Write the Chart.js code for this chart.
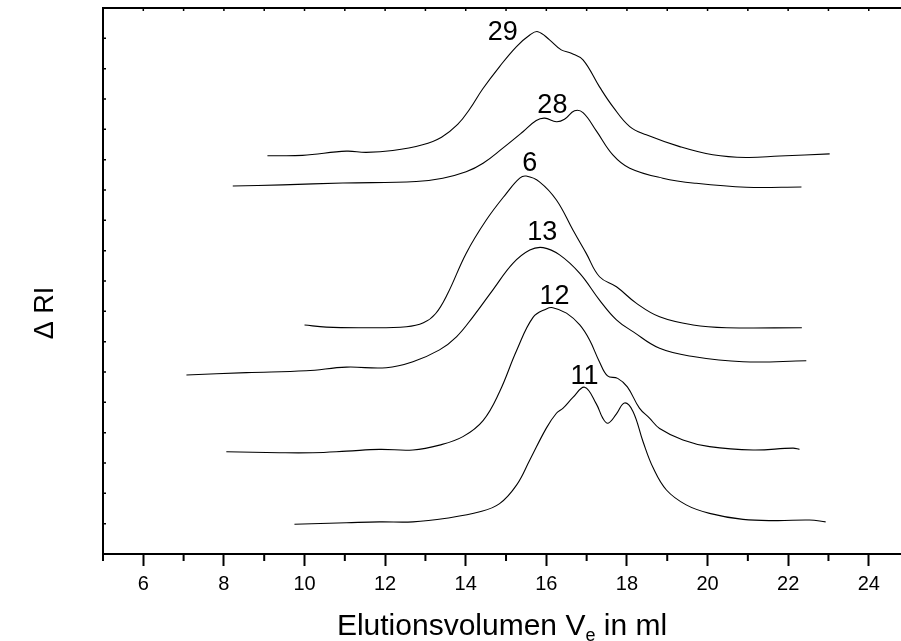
<!DOCTYPE html>
<html>
<head>
<meta charset="utf-8">
<script src="https://cdn.jsdelivr.net/npm/chart.js@4.4.1/dist/chart.umd.min.js"></script>
<style>
body { margin: 0; background: #fff; }
#wrap { width: 901px; height: 641px; }
</style>
</head>
<body>
<div id="wrap"><canvas id="gpcChart"></canvas></div>
<script>
// elution volume (ml) and RI signal (arbitrary, stacked)
const vol29 = [9.08, 9.95, 11.04, 11.53, 12.19, 12.93, 13.40, 13.80, 14.10, 14.42, 14.84, 15.26, 15.59, 15.79, 16.08, 16.37, 16.62, 16.91, 17.32, 17.65, 18.07, 18.48, 19.31, 20.13, 20.96, 21.79, 23.03];
const ri29 = [13.13, 13.14, 13.28, 13.24, 13.30, 13.49, 13.74, 14.16, 14.67, 15.33, 16.07, 16.73, 17.11, 17.22, 16.95, 16.62, 16.51, 16.29, 15.40, 14.75, 14.09, 13.82, 13.43, 13.16, 13.07, 13.12, 13.19];

const vol28 = [8.22, 9.46, 10.95, 12.77, 13.43, 14.01, 14.43, 14.92, 15.42, 15.75, 15.96, 16.25, 16.45, 16.70, 16.91, 17.24, 17.65, 18.07, 18.89, 19.72, 20.96, 22.33];
const ri28 = [12.13, 12.17, 12.23, 12.28, 12.39, 12.60, 12.88, 13.38, 13.92, 14.29, 14.37, 14.25, 14.33, 14.61, 14.55, 13.95, 13.16, 12.72, 12.39, 12.22, 12.09, 12.10];

const vol6 = [10.00, 10.54, 11.45, 12.53, 12.95, 13.25, 13.55, 14.01, 14.51, 15.01, 15.34, 15.50, 15.83, 16.25, 16.66, 16.99, 17.32, 17.74, 18.23, 18.81, 19.64, 20.47, 22.34];
const ri6 = [7.55, 7.48, 7.46, 7.49, 7.62, 7.92, 8.58, 9.91, 11.01, 11.89, 12.39, 12.46, 12.27, 11.67, 10.68, 9.91, 9.14, 8.81, 8.27, 7.82, 7.55, 7.46, 7.46];

const vol13 = [7.07, 8.56, 10.04, 11.04, 12.03, 12.69, 13.35, 13.77, 14.18, 14.67, 15.17, 15.59, 15.92, 16.33, 16.83, 17.32, 17.74, 18.15, 18.81, 19.64, 20.88, 22.45];
const ri13 = [5.90, 5.98, 6.04, 6.16, 6.14, 6.34, 6.73, 7.16, 7.82, 8.70, 9.58, 10.02, 10.10, 9.86, 9.25, 8.37, 7.72, 7.33, 6.78, 6.51, 6.34, 6.37];

const vol12 = [8.06, 9.38, 10.21, 11.04, 11.86, 12.69, 13.35, 13.93, 14.43, 14.84, 15.26, 15.67, 16.00, 16.16, 16.50, 16.83, 17.07, 17.32, 17.52, 17.77, 18.01, 18.31, 18.56, 18.81, 19.39, 20.05, 21.13, 22.12, 22.28];
const ri12 = [3.37, 3.34, 3.34, 3.39, 3.45, 3.43, 3.59, 3.87, 4.40, 5.35, 6.70, 7.80, 8.08, 8.12, 7.94, 7.55, 7.06, 6.33, 5.87, 5.79, 5.51, 4.81, 4.48, 4.14, 3.76, 3.54, 3.43, 3.49, 3.45];

const vol11 = [9.75, 11.04, 11.86, 12.69, 13.52, 14.35, 14.84, 15.26, 15.59, 16.00, 16.25, 16.41, 16.66, 16.95, 17.24, 17.40, 17.53, 17.74, 17.94, 18.15, 18.40, 18.65, 18.98, 19.47, 20.05, 20.88, 21.71, 22.53, 22.93];
const ri11 = [0.98, 1.03, 1.06, 1.06, 1.18, 1.39, 1.66, 2.27, 3.10, 4.15, 4.64, 4.80, 5.16, 5.50, 4.95, 4.48, 4.31, 4.62, 4.98, 4.70, 3.70, 2.84, 2.11, 1.62, 1.34, 1.14, 1.10, 1.12, 1.06];

// sample numbers written above each peak
const sampleNames = ['29', '28', '6', '13', '12', '11'];
const labelVol = [14.92, 16.15, 15.59, 15.90, 16.20, 16.95];
const labelRI = [17.20, 14.80, 12.88, 10.61, 8.48, 5.85];

// axis ticks
const xMajor = [6, 8, 10, 12, 14, 16, 18, 20, 22, 24];
const xMinor = [5, 7, 9, 11, 13, 15, 17, 19, 21, 23];
const yMinor = [1, 2, 3, 4, 5, 6, 7, 8, 9, 10, 11, 12, 13, 14, 15, 16, 17];

const FONT = '"Liberation Sans", Arial, sans-serif';

function curve(vol, ri) {
    return {
        data: vol.map((v, i) => ({ x: v, y: ri[i] })),
        borderColor: '#000',
        borderWidth: 1.1,
        pointRadius: 0,
        tension: 0.4,
        fill: false
    };
}

/// Extra axis decorations: top frame, small inside ticks, odd minor ticks, titles and peak labels
const decor = {
    id: 'decor',
    afterDraw(chart) {
        const { ctx, chartArea: a, scales: { x, y } } = chart;
        ctx.save();
        ctx.strokeStyle = '#000';
        ctx.lineWidth = 2;
        ctx.beginPath();
        ctx.moveTo(a.left - 1, a.top);
        ctx.lineTo(a.right, a.top);
        ctx.stroke();

        ctx.lineWidth = 1.5;
        ctx.beginPath();
        xMajor.concat(xMinor).forEach(v => {
            const px = x.getPixelForValue(v);
            ctx.moveTo(px, a.top);
            ctx.lineTo(px, a.top + 3);
        });
        yMinor.forEach(v => {
            const py = y.getPixelForValue(v);
            ctx.moveTo(a.left, py);
            ctx.lineTo(a.left + 3, py);
        });
        ctx.stroke();

        ctx.lineWidth = 2;
        ctx.beginPath();
        xMinor.forEach(v => {
            const px = x.getPixelForValue(v);
            ctx.moveTo(px, a.bottom);
            ctx.lineTo(px, a.bottom + 7);
        });
        ctx.stroke();

        ctx.fillStyle = '#000';
        ctx.font = '27px ' + FONT;
        ctx.textAlign = 'center';
        ctx.textBaseline = 'middle';
        sampleNames.forEach((s, i) => {
            ctx.fillText(s, x.getPixelForValue(labelVol[i]), y.getPixelForValue(labelRI[i]));
        });

        // y title
        ctx.save();
        ctx.translate(46, 313);
        ctx.rotate(-Math.PI / 2);
        ctx.fillText('\u0394 RI', 0, 0);
        ctx.restore();

        // x title with subscript e
        ctx.textAlign = 'left';
        ctx.textBaseline = 'alphabetic';
        const part1 = 'Elutionsvolumen V';
        const part2 = ' in ml';
        const bigFont = '30px ' + FONT;
        const smallFont = '18px ' + FONT;
        ctx.font = bigFont;
        const w1 = ctx.measureText(part1).width;
        const w3 = ctx.measureText(part2).width;
        ctx.font = smallFont;
        const w2 = ctx.measureText('e').width;
        let tx = (a.left + a.right) / 2 - (w1 + w2 + w3) / 2;
        const base = 635;
        ctx.font = bigFont;
        ctx.fillText(part1, tx, base);
        tx += w1;
        ctx.font = smallFont;
        ctx.fillText('e', tx, base + 6);
        tx += w2;
        ctx.font = bigFont;
        ctx.fillText(part2, tx, base);
        ctx.restore();
    }
};

const gpcChart = new Chart('gpcChart', {
    type: 'line',
    data: {
        datasets: [
            curve(vol29, ri29),
            curve(vol28, ri28),
            curve(vol6, ri6),
            curve(vol13, ri13),
            curve(vol12, ri12),
            curve(vol11, ri11)
        ]
    },
    options: {
        responsive: true,
        maintainAspectRatio: false,
        animation: false,
        layout: { padding: { top: 8, right: 0, left: 0, bottom: 0 } },
        plugins: {
            legend: { display: false },
            tooltip: { enabled: false }
        },
        scales: {
            x: {
                type: 'linear',
                min: 5,
                max: 24.8,
                afterBuildTicks: scale => {
                    scale.ticks = xMinor.concat(xMajor).sort((p, q) => p - q).map(v => ({ value: v }));
                },
                afterFit: scale => { scale.height = 87; },
                border: { display: true, color: '#000', width: 2 },
                grid: {
                    drawOnChartArea: false,
                    tickLength: 12,
                    tickWidth: 2,
                    tickColor: c => (c.tick && xMajor.includes(c.tick.value)) ? '#000' : 'rgba(0,0,0,0)'
                },
                ticks: {
                    autoSkip: false,
                    maxRotation: 0,
                    padding: 6,
                    color: '#000',
                    font: { family: FONT, size: 20 },
                    callback: v => xMajor.includes(v) ? String(v) : ''
                }
            },
            y: {
                min: 0,
                max: 18,
                afterFit: scale => { scale.width = 103; },
                border: { display: true, color: '#000', width: 2 },
                grid: { display: false },
                ticks: { display: false }
            }
        }
    },
    plugins: [decor]
});
</script>
</body>
</html>
